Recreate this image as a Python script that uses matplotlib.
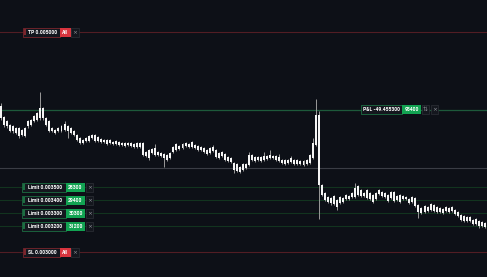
import matplotlib
matplotlib.use("Agg")
import matplotlib.pyplot as plt
from matplotlib.patches import Rectangle
from matplotlib import font_manager

# ---- candle data (prices in millionths, i.e. 1e-6) ----
opens = [4123, 4038, 4008, 3977, 3969, 3954, 3954, 3938, 3892, 3969,
         3977, 4008, 4015, 4031, 4108, 4031, 4008, 3954, 3938, 3931,
         3931, 3938, 3969, 3954, 3931, 3900, 3877, 3861, 3854, 3854,
         3877, 3900, 3885, 3869, 3861, 3861, 3838, 3846, 3831, 3846,
         3838, 3838, 3823, 3838, 3831, 3808, 3838, 3838, 3769, 3723,
         3762, 3800, 3769, 3762, 3754, 3746, 3723, 3769, 3785, 3815,
         3800, 3815, 3831, 3808, 3823, 3815, 3808, 3800, 3785, 3762,
         3777, 3785, 3762, 3738, 3754, 3731, 3723, 3685, 3677, 3654,
         3631, 3646, 3669, 3746, 3731, 3708, 3731, 3708, 3715, 3723,
         3738, 3738, 3731, 3708, 3708, 3685, 3692, 3708, 3708, 3700,
         3700, 3677, 3685, 3723, 3823, 4054, 3515, 3454, 3423, 3415,
         3369, 3400, 3377, 3385, 3408, 3431, 3423, 3423, 3438, 3477,
         3454, 3415, 3454, 3438, 3408, 3446, 3462, 3454, 3438, 3415,
         3462, 3431, 3438, 3408, 3423, 3408, 3385, 3415, 3362, 3338,
         3308, 3315, 3323, 3362, 3346, 3338, 3331, 3315, 3338, 3315,
         3323, 3308, 3285, 3277, 3269, 3238, 3246, 3215, 3238, 3231,
         3223]
highs = [4146, 4046, 4015, 3985, 3977, 3961, 3961, 3946, 3961, 4015,
         4023, 4054, 4077, 4231, 4115, 4038, 4015, 3961, 3946, 3961,
         3977, 4008, 3977, 3961, 3938, 3908, 3885, 3869, 3885, 3900,
         3908, 3908, 3892, 3877, 3869, 3869, 3869, 3854, 3861, 3854,
         3846, 3846, 3846, 3846, 3838, 3846, 3846, 3846, 3777, 3792,
         3800, 3831, 3777, 3769, 3762, 3754, 3769, 3815, 3838, 3823,
         3838, 3846, 3838, 3854, 3831, 3823, 3815, 3808, 3792, 3808,
         3823, 3792, 3769, 3777, 3762, 3738, 3731, 3692, 3685, 3662,
         3685, 3685, 3769, 3754, 3738, 3738, 3738, 3769, 3746, 3785,
         3746, 3746, 3754, 3715, 3715, 3715, 3738, 3715, 3715, 3708,
         3708, 3715, 3754, 3877, 4177, 4084, 3523, 3462, 3431, 3423,
         3438, 3408, 3431, 3423, 3446, 3438, 3462, 3531, 3515, 3485,
         3462, 3485, 3462, 3446, 3462, 3485, 3469, 3462, 3446, 3469,
         3469, 3438, 3446, 3438, 3431, 3415, 3431, 3423, 3369, 3346,
         3362, 3354, 3377, 3369, 3354, 3346, 3338, 3354, 3346, 3354,
         3331, 3315, 3292, 3285, 3277, 3277, 3254, 3262, 3246, 3238,
         3231]
lows = [4015, 3961, 3954, 3923, 3915, 3908, 3877, 3892, 3885, 3954,
        3969, 4000, 4008, 4015, 4015, 3969, 3923, 3923, 3908, 3923,
        3923, 3931, 3877, 3908, 3892, 3854, 3831, 3831, 3846, 3846,
        3869, 3846, 3846, 3838, 3838, 3823, 3831, 3823, 3823, 3815,
        3815, 3808, 3815, 3808, 3800, 3800, 3800, 3738, 3731, 3708,
        3754, 3738, 3738, 3731, 3654, 3700, 3715, 3762, 3777, 3785,
        3792, 3808, 3800, 3800, 3792, 3777, 3777, 3762, 3746, 3754,
        3769, 3723, 3715, 3731, 3700, 3692, 3685, 3608, 3615, 3608,
        3623, 3638, 3662, 3700, 3692, 3700, 3692, 3700, 3708, 3715,
        3715, 3700, 3692, 3677, 3669, 3677, 3685, 3669, 3669, 3669,
        3662, 3669, 3677, 3715, 3815, 3254, 3431, 3392, 3377, 3362,
        3362, 3323, 3369, 3377, 3400, 3400, 3415, 3415, 3431, 3423,
        3423, 3408, 3400, 3377, 3400, 3438, 3423, 3415, 3385, 3408,
        3385, 3392, 3377, 3400, 3400, 3369, 3377, 3346, 3262, 3292,
        3300, 3308, 3315, 3308, 3300, 3300, 3292, 3308, 3300, 3308,
        3285, 3269, 3238, 3231, 3231, 3231, 3208, 3208, 3185, 3192,
        3185]
closes = [4031, 3977, 3969, 3931, 3931, 3915, 3892, 3900, 3954, 4008,
          4015, 4046, 4069, 4108, 4031, 3977, 3931, 3931, 3915, 3954,
          3969, 3985, 3931, 3915, 3900, 3861, 3838, 3838, 3877, 3892,
          3900, 3854, 3854, 3846, 3846, 3831, 3861, 3831, 3854, 3823,
          3823, 3815, 3838, 3815, 3808, 3838, 3808, 3746, 3738, 3785,
          3792, 3746, 3746, 3738, 3723, 3708, 3762, 3808, 3831, 3792,
          3831, 3838, 3808, 3846, 3800, 3785, 3785, 3769, 3754, 3800,
          3808, 3731, 3723, 3769, 3708, 3700, 3692, 3631, 3623, 3615,
          3677, 3677, 3746, 3708, 3700, 3731, 3700, 3738, 3738, 3746,
          3723, 3708, 3700, 3685, 3677, 3708, 3723, 3677, 3677, 3677,
          3669, 3708, 3746, 3838, 4054, 3515, 3438, 3400, 3385, 3377,
          3431, 3346, 3423, 3415, 3438, 3408, 3454, 3492, 3508, 3431,
          3431, 3477, 3408, 3385, 3454, 3477, 3431, 3423, 3392, 3462,
          3392, 3400, 3385, 3431, 3408, 3377, 3423, 3354, 3308, 3300,
          3354, 3346, 3369, 3315, 3308, 3308, 3300, 3346, 3308, 3346,
          3292, 3277, 3246, 3238, 3238, 3269, 3215, 3254, 3200, 3200,
          3192]

# ---- order / position overlay values ----
tp_price = 0.005000
sl_price = 0.003000
pnl_price = 0.004094
last_price = 0.003650
limit_prices = [0.003500, 0.003400, 0.003300, 0.003200]
limit_qty = ["28300", "29400", "30300", "31200"]
tp_text = "TP 0.005000"
sl_text = "SL 0.003000"
pnl_text = "P&L -49.455300"
pnl_qty = "95400"

# ---- style ----
W, H = 487, 277
BG = "#0d1017"
BOX_BG = "#14171e"
RED = "#d8343e"
RED_DIM = "#7a262d"
RED_LINE = "#521d24"
GREEN = "#12a352"
GREEN_DIM = "#1d6d42"
GREEN_LINE = "#12341f"
PNL_LINE = "#1d5a3b"
GRAY_LINE = "#3a3d45"

names = {f.name for f in font_manager.fontManager.ttflist}
FONT = "Liberation Sans Narrow" if "Liberation Sans Narrow" in names else "Roboto"
FS = 3.6

fig = plt.figure(figsize=(W / 100, H / 100), dpi=100)
fig.patch.set_facecolor(BG)
ax = fig.add_axes([0, 0, 1, 1])
ax.set_facecolor(BG)

n = len(opens)
xs = list(range(n))
o = [v / 1e6 for v in opens]
c = [v / 1e6 for v in closes]
hi = [v / 1e6 for v in highs]
lo = [v / 1e6 for v in lows]
bottoms = [min(a, b) for a, b in zip(o, c)]
heights = [max(abs(a - b), 1e-6) for a, b in zip(o, c)]

ax.set_xlim(-0.33, n - 0.34)
ax.set_ylim(0.002808, 0.004938)
ax.axis("off")

# horizontal price lines
ax.axhline(pnl_price, color=PNL_LINE, lw=0.9, zorder=1)
ax.axhline(last_price, color=GRAY_LINE, lw=0.8, zorder=1)
for p in limit_prices:
    ax.axhline(p, color=GREEN_LINE, lw=0.8, zorder=1)
ax.axhline(sl_price, color=RED_LINE, lw=0.8, zorder=1)

ax.vlines(xs, lo, hi, color="#9a9a9a", lw=0.7, zorder=2)
ax.bar(xs, heights, bottom=bottoms, width=0.66, color="#f4f4f4", lw=0, zorder=3)

# overlay in pixel coordinates for the order labels
ov = fig.add_axes([0, 0, 1, 1])
ov.set_xlim(0, W)
ov.set_ylim(H, 0)
ov.axis("off")
ov.patch.set_alpha(0)


def py(price):
    return H - ax.transData.transform((0, price))[1]


TOP_PIN = 32.0  # TP is above the visible range -> pinned near top
ov.axhline(TOP_PIN, color=RED_LINE, lw=0.8, zorder=1)


def box(x, y, w, fc, ec, lw=0.6, h=9.0):
    ov.add_patch(Rectangle((x, y - h / 2), w, h, facecolor=fc, edgecolor=ec, lw=lw, zorder=5))


def label(y, x, w, text, accent, border, qty, qw, icons, bar=True):
    box(x, y, w, BOX_BG, border)
    tx = x + 2.2
    if bar:
        ov.add_patch(Rectangle((x + 1.4, y - 2.6), 1.6, 5.2, facecolor=border, lw=0, zorder=6))
        tx = x + 5.5
    ov.text(tx, y + 0.2, text, color="white", fontsize=FS, fontweight="bold",
            family=[FONT, "DejaVu Sans"], ha="left", va="center", zorder=7)
    box(x + w, y, qw, accent, accent, lw=0)
    ov.text(x + w + qw / 2, y + 0.2, qty, color="white", fontsize=FS, fontweight="bold",
            family=[FONT, "DejaVu Sans"], ha="center", va="center", zorder=7)
    cx = x + w + qw + 0.8
    for ic in icons:
        box(cx, y, 7.4, BOX_BG, "#2e3138", lw=0.5)
        ov.text(cx + 3.7, y + 0.2, ic, color="#8d9098", fontsize=FS + 0.6,
                family=["DejaVu Sans"], ha="center", va="center", zorder=7)
        cx += 8.8


label(TOP_PIN, 22.7, 37.3, tp_text, RED, RED_DIM, "All", 10.5, ["×"])
label(py(sl_price), 22.7, 37.3, sl_text, RED, RED_DIM, "All", 10.5, ["×"])
for p, q in zip(limit_prices, limit_qty):
    label(py(p), 22.0, 44.0, "Limit %.6f" % p, GREEN, GREEN_DIM, q, 19.0, ["×"])
label(py(pnl_price), 360.7, 41.6, pnl_text, GREEN, GREEN_DIM, pnl_qty, 18.7, ["⇅", "×"],
      bar=False)

fig.savefig("out.png", dpi=100, facecolor=BG)
